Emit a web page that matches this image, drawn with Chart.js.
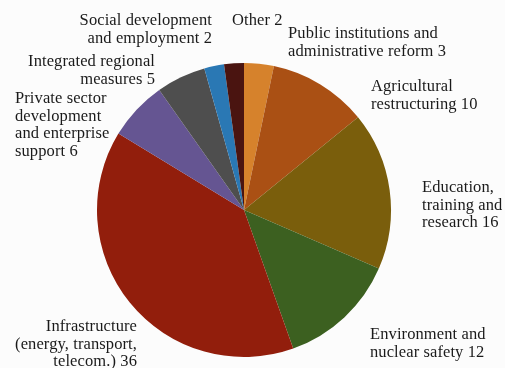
<!DOCTYPE html>
<html>
<head>
<meta charset="utf-8">
<script src="https://cdn.jsdelivr.net/npm/chart.js@4/dist/chart.umd.min.js"></script>
<style>
  html, body { margin: 0; padding: 0; background: #fcfcfc; }
  #wrap { width: 505px; height: 368px; }
</style>
</head>
<body>
<div id="wrap"><canvas id="pieChart" width="505" height="368"></canvas></div>
<script>
// ===== Data =====
const categories = [
  'Public institutions and administrative reform',
  'Agricultural restructuring',
  'Education, training and research',
  'Environment and nuclear safety',
  'Infrastructure (energy, transport, telecom.)',
  'Private sector development and enterprise support',
  'Integrated regional measures',
  'Social development and employment',
  'Other'
];
const shares = [3, 10, 16, 12, 36, 6, 5, 2, 2];
const sliceColors = [
  '#d6822c', '#aa5014', '#7a5e0c', '#3c6020', '#921e0c',
  '#655592', '#4e4e4e', '#2a78b4', '#4a1410'
];

// label lines per slice (value appended on the last line)
const labelLines = [
  ['Public institutions and', 'administrative reform'],
  ['Agricultural', 'restructuring'],
  ['Education,', 'training and', 'research'],
  ['Environment and', 'nuclear safety'],
  ['Infrastructure', '(energy, transport,', 'telecom.)'],
  ['Private sector', 'development', 'and enterprise', 'support'],
  ['Integrated regional', 'measures'],
  ['Social development', 'and employment'],
  ['Other']
];

// ===== Label layout: anchor x, first line y, alignment =====
const labelLayout = [
  { x: 288, y: 34, align: 'left' },
  { x: 371, y: 87, align: 'left' },
  { x: 422, y: 188, align: 'left' },
  { x: 370, y: 335, align: 'left' },
  { x: 137, y: 327, align: 'right' },
  { x: 15, y: 99, align: 'left' },
  { x: 155, y: 62, align: 'right' },
  { x: 212, y: 21, align: 'right' },
  { x: 232, y: 21, align: 'left' }
];
const LINE_H = 17.5;

const sliceLabels = {
  id: 'sliceLabels',
  afterDraw(chart) {
    const ctx = chart.ctx;
    ctx.save();
    ctx.font = '16.5px "Liberation Serif", "Times New Roman", serif';
    ctx.letterSpacing = '0.1px';
    ctx.fillStyle = '#1a1a1a';
    ctx.textBaseline = 'middle';
    labelLines.forEach((lines, i) => {
      const pos = labelLayout[i];
      ctx.textAlign = pos.align;
      lines.forEach((line, j) => {
        const text = j === lines.length - 1 ? line + ' ' + shares[i] : line;
        ctx.fillText(text, pos.x, pos.y + j * LINE_H);
      });
    });
    ctx.restore();
  }
};

// ===== Chart =====
new Chart(document.getElementById('pieChart').getContext('2d'), {
  type: 'pie',
  data: {
    labels: categories,
    datasets: [{
      data: shares,
      backgroundColor: sliceColors,
      borderWidth: 0
    }]
  },
  options: {
    responsive: false,
    animation: false,
    layout: { padding: { top: 63, bottom: 11, left: 97, right: 114 } },
    plugins: {
      legend: { display: false },
      tooltip: { enabled: false }
    }
  },
  plugins: [sliceLabels]
});
</script>
</body>
</html>
